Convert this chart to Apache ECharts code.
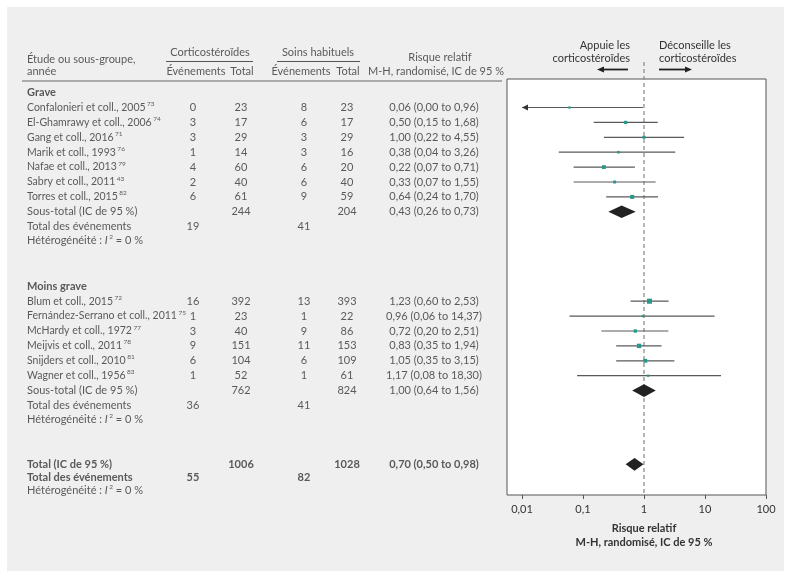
<!DOCTYPE html>
<html><head><meta charset="utf-8">
<script src="https://cdn.jsdelivr.net/npm/echarts@6/dist/echarts.min.js"></script>
<style>html,body{margin:0;padding:0;background:#fff}#c{width:791px;height:578px}</style>
</head><body><div id="c"></div>
<script>
// ---------- DATA ----------
const graveStudies = ['Confalonieri et coll., 2005', 'El-Ghamrawy et coll., 2006', 'Gang et coll., 2016', 'Marik et coll., 1993', 'Nafae et coll., 2013', 'Sabry et coll., 2011', 'Torres et coll., 2015'];
const graveRefs = ['73', '74', '71', '76', '79', '43', '82'];
const graveCortEvents = [0, 3, 3, 1, 4, 2, 6];
const graveCortTotal = [23, 17, 29, 14, 60, 40, 61];
const graveUsualEvents = [8, 6, 3, 3, 6, 6, 9];
const graveUsualTotal = [23, 17, 29, 16, 20, 40, 59];
const graveRR = [0.06, 0.50, 1.00, 0.38, 0.22, 0.33, 0.64];
const graveLow = [0.00, 0.15, 0.22, 0.04, 0.07, 0.07, 0.24];
const graveHigh = [0.96, 1.68, 4.55, 3.26, 0.71, 1.55, 1.70];
const graveWeights = [1.5, 7, 5, 3, 13, 5, 15];   // estimated relative weights (%)
const graveSubtotal = { cortTotal: 244, usualTotal: 204, rr: 0.43, low: 0.26, high: 0.73, cortEvents: 19, usualEvents: 41 };

const moinsStudies = ['Blum et coll., 2015', 'Fernández-Serrano et coll., 2011', 'McHardy et coll., 1972', 'Meijvis et coll., 2011', 'Snijders et coll., 2010', 'Wagner et coll., 1956'];
const moinsRefs = ['72', '75', '77', '78', '81', '83'];
const moinsCortEvents = [16, 1, 3, 9, 6, 1];
const moinsCortTotal = [392, 23, 40, 151, 104, 52];
const moinsUsualEvents = [13, 1, 9, 11, 6, 1];
const moinsUsualTotal = [393, 22, 86, 153, 109, 61];
const moinsRR = [1.23, 0.96, 0.72, 0.83, 1.05, 1.17];
const moinsLow = [0.60, 0.06, 0.20, 0.35, 0.35, 0.08];
const moinsHigh = [2.53, 14.37, 2.51, 1.94, 3.15, 18.30];
const moinsWeights = [30, 1.5, 8, 20, 13, 1.5];
const moinsSubtotal = { cortTotal: 762, usualTotal: 824, rr: 1.00, low: 0.64, high: 1.56, cortEvents: 36, usualEvents: 41 };

const overallTotal = { cortTotal: 1006, usualTotal: 1028, rr: 0.70, low: 0.50, high: 0.98, cortEvents: 55, usualEvents: 82 };

const tickValues = [0.01, 0.1, 1, 10, 100];
const tickLabels = ['0,01', '0,1', '1', '10', '100'];

// ---------- LAYOUT ----------
const FONT = 'Lato';
const FS = 11;
const TXT = '#333';
const ROW_PX = 14.9, ROW0_PX = 92.6;
const TABLE_TOP = 20, PLOT_TOP = 79, PLOT_BOTTOM = 495, H = 578;
const PLOT_LEFT = 507, PLOT_RIGHT = 766;
const X_MIN_LOG = -2 - (522 - PLOT_LEFT) / 61, X_MAX_LOG = 2;
const rowOf = px => (px - ROW0_PX) / ROW_PX;
const COL = { name: 27, ce: 193, ct: 241, ue: 304, ut: 347, rr: 434 };

const fmt = v => v.toFixed(2).replace('.', ',');
const ciText = (r, l, h) => fmt(r) + ' (' + fmt(l) + ' to ' + fmt(h) + ')';
const lg = v => Math.log10(v);

const cells = [];
function cell(x, row, text, align, style) {
  cells.push({ value: [x, row], label: Object.assign({ formatter: text, align: align || 'center' }, style || {}) });
}
const BOLD = { fontWeight: 'bold' };
// headers
cell(COL.name, -2.25, 'Étude ou sous-groupe,', 'left');
cell(COL.name, -1.45, 'année', 'left');
cell(210, -2.72, 'Corticostéroïdes', 'center');
cell(COL.ce + 3, -1.45, 'Événements', 'center');
cell(COL.ct + 1, -1.45, 'Total', 'center');
cell(318, -2.72, 'Soins habituels', 'center');
cell(COL.ue - 3, -1.45, 'Événements', 'center');
cell(COL.ut + 1, -1.45, 'Total', 'center');
cell(440, -2.35, 'Risque relatif', 'center');
cell(436, -1.45, 'M-H, randomisé, IC de 95 %', 'center');

const forestData = [];
forestData.push({ value: [0, 0, 0, rowOf(62), 0, 3] }); // reference line at RR = 1

function group(title, titleRow, studies, refs, ce, ct, ue, ut, rr, lo, hi, w, sub) {
  cell(COL.name, titleRow, title, 'left', BOLD);
  studies.forEach((s, i) => {
    const row = titleRow + 1 + i;
    cell(COL.name, row, '{n|' + s + '}{s|' + refs[i] + '}', 'left');
    cell(COL.ce, row, String(ce[i]));
    cell(COL.ct, row, String(ct[i]));
    cell(COL.ue, row, String(ue[i]));
    cell(COL.ut, row, String(ut[i]));
    cell(COL.rr, row, ciText(rr[i], lo[i], hi[i]));
    const size = 1.5 + 0.65 * Math.sqrt(w[i]);
    const lowPlot = lo[i] > 0 ? lg(lo[i]) : lg(tickValues[0]);
    forestData.push({ value: [lg(rr[i]), lowPlot, lg(hi[i]), row, size, lo[i] > 0 ? 0 : 1] });
  });
  const sr = titleRow + 1 + studies.length;
  cell(COL.name, sr, 'Sous-total (IC de 95 %)', 'left');
  cell(COL.ct, sr, String(sub.cortTotal));
  cell(COL.ut, sr, String(sub.usualTotal));
  cell(COL.rr, sr, ciText(sub.rr, sub.low, sub.high));
  forestData.push({ value: [lg(sub.rr), lg(sub.low), lg(sub.high), sr, 6.3, 2] });
  cell(COL.name, sr + 1, 'Total des événements', 'left');
  cell(COL.ce, sr + 1, String(sub.cortEvents));
  cell(COL.ue, sr + 1, String(sub.usualEvents));
  cell(COL.name, sr + 1.93, 'Hétérogénéité : {i|I}{s|2} = 0 %', 'left');
}
group('Grave', 0, graveStudies, graveRefs, graveCortEvents, graveCortTotal, graveUsualEvents, graveUsualTotal, graveRR, graveLow, graveHigh, graveWeights, graveSubtotal);
group('Moins grave', 13.0, moinsStudies, moinsRefs, moinsCortEvents, moinsCortTotal, moinsUsualEvents, moinsUsualTotal, moinsRR, moinsLow, moinsHigh, moinsWeights, moinsSubtotal);

const TR = 24.95;
cell(COL.name, TR, 'Total (IC de 95 %)', 'left', BOLD);
cell(COL.ct, TR, String(overallTotal.cortTotal), 'center', BOLD);
cell(COL.ut, TR, String(overallTotal.usualTotal), 'center', BOLD);
cell(COL.rr, TR, ciText(overallTotal.rr, overallTotal.low, overallTotal.high), 'center', BOLD);
cell(COL.name, TR + 0.87, 'Total des événements', 'left', BOLD);
cell(COL.ce, TR + 0.87, String(overallTotal.cortEvents), 'center', BOLD);
cell(COL.ue, TR + 0.87, String(overallTotal.usualEvents), 'center', BOLD);
cell(COL.name, TR + 1.72, 'Hétérogénéité : {i|I}{s|2} = 0 %', 'left');
forestData.push({ value: [lg(overallTotal.rr), lg(overallTotal.low), lg(overallTotal.high), TR, 6.3, 2] });

function renderForest(params, api) {
  const kind = api.value(5);
  const row = api.value(3);
  if (kind === 3) {
    const a = api.coord([0, row]);
    const b = api.coord([0, rowOf(PLOT_BOTTOM)]);
    return { type: 'line', shape: { x1: a[0], y1: a[1], x2: b[0], y2: b[1] }, style: { stroke: '#8f8f8f', lineWidth: 1.3, lineDash: [4, 3] } };
  }
  const pc = api.coord([api.value(0), row]);
  const pl = api.coord([api.value(1), row]);
  const ph = api.coord([api.value(2), row]);
  if (kind === 2) {
    const h = api.value(4);
    return { type: 'polygon', shape: { points: [[pl[0], pl[1]], [pc[0], pc[1] - h], [ph[0], ph[1]], [pc[0], pc[1] + h]] }, style: { fill: '#222' } };
  }
  const s = api.value(4);
  const children = [
    { type: 'line', shape: { x1: pl[0], y1: pl[1], x2: ph[0], y2: ph[1] }, style: { stroke: '#5a5a5a', lineWidth: 1.2 } },
    { type: 'rect', shape: { x: pc[0] - s / 2, y: pc[1] - s / 2, width: s, height: s }, style: { fill: '#27998b' } }
  ];
  if (kind === 1) children.push({ type: 'polygon', shape: { points: [[pl[0], pl[1]], [pl[0] + 6, pl[1] - 3], [pl[0] + 6, pl[1] + 3]] }, style: { fill: '#333' } });
  return { type: 'group', children };
}

const tr0 = rowOf(TABLE_TOP), tr1 = rowOf(PLOT_BOTTOM);
const pr0 = rowOf(PLOT_TOP);

const chart = echarts.init(document.getElementById('c'), null, { renderer: 'canvas' });
const F = FS + 'px ' + FONT;
const hidden = { show: false, axisLine: { show: false, onZero: false }, axisTick: { show: false }, axisLabel: { show: false }, splitLine: { show: false } };
chart.setOption({
  animation: false,
  backgroundColor: '#fff',
  textStyle: { fontFamily: FONT },
  grid: [
    { left: 0, right: 0, top: TABLE_TOP, bottom: H - PLOT_BOTTOM, show: false },
    { left: PLOT_LEFT, right: 791 - PLOT_RIGHT, top: PLOT_TOP, bottom: H - PLOT_BOTTOM, show: true, backgroundColor: '#fff', borderColor: '#555', borderWidth: 1, z: 1 }
  ],
  xAxis: [
    Object.assign({ gridIndex: 0, type: 'value', min: 0, max: 791 }, hidden),
    { gridIndex: 1, type: 'value', min: X_MIN_LOG, max: X_MAX_LOG, position: 'bottom',
      axisLine: { show: false, onZero: false }, splitLine: { show: false },
      axisTick: { show: true, length: 4, lineStyle: { color: '#555' }, customValues: tickValues.map(lg) },
      axisLabel: { margin: 9, fontFamily: FONT, fontSize: FS, color: TXT, customValues: tickValues.map(lg),
        formatter: v => { const i = tickValues.findIndex(t => Math.abs(lg(t) - v) < 1e-6); return i >= 0 ? tickLabels[i] : ''; } } }
  ],
  yAxis: [
    Object.assign({ gridIndex: 0, type: 'value', min: tr0, max: tr1, inverse: true }, hidden),
    Object.assign({ gridIndex: 1, type: 'value', min: pr0, max: tr1, inverse: true }, hidden)
  ],
  series: [
    { type: 'scatter', xAxisIndex: 0, yAxisIndex: 0, symbolSize: 0, silent: true, z: 5,
      label: { show: true, position: 'inside', verticalAlign: 'middle', fontFamily: FONT, fontSize: FS, color: TXT,
        rich: {
          n: { fontFamily: FONT, fontSize: 10.5, color: TXT, lineHeight: 14 },
          i: { fontFamily: FONT, fontSize: FS, color: TXT, fontStyle: 'italic', lineHeight: 14 },
          s: { fontFamily: FONT, fontSize: 6.5, color: TXT, verticalAlign: 'top', lineHeight: 9, padding: [0, 0, 0, 1.5] }
        } },
      emphasis: { disabled: true },
      data: cells },
    { type: 'custom', xAxisIndex: 1, yAxisIndex: 1, renderItem: renderForest, silent: true, z: 4,
      data: forestData }
  ],
  graphic: [
    { id: 'bg', type: 'rect', z: -100, shape: { x: 7, y: 7, width: 777, height: 564 }, style: { fill: '#eeefee' } },
    { id: 'u1', type: 'line', shape: { x1: 166, y1: 61.5, x2: 253, y2: 61.5 }, style: { stroke: '#555', lineWidth: 1 } },
    { id: 'u2', type: 'line', shape: { x1: 277, y1: 61.5, x2: 360, y2: 61.5 }, style: { stroke: '#555', lineWidth: 1 } },
    { id: 'hl', type: 'line', shape: { x1: 22, y1: 81, x2: 502, y2: 81 }, style: { stroke: '#666', lineWidth: 1.2 } },
    { id: 't1', type: 'text', style: { text: 'Appuie les', x: 630, y: 45, align: 'right', verticalAlign: 'middle', font: F, fill: TXT } },
    { id: 't2', type: 'text', style: { text: 'corticostéroïdes', x: 630, y: 58, align: 'right', verticalAlign: 'middle', font: F, fill: TXT } },
    { id: 't3', type: 'text', style: { text: 'Déconseille les', x: 659, y: 45, align: 'left', verticalAlign: 'middle', font: F, fill: TXT } },
    { id: 't4', type: 'text', style: { text: 'corticostéroïdes', x: 659, y: 58, align: 'left', verticalAlign: 'middle', font: F, fill: TXT } },
    { id: 'a1', type: 'line', shape: { x1: 628, y1: 69.5, x2: 602, y2: 69.5 }, style: { stroke: '#222', lineWidth: 1.8 } },
    { id: 'a1h', type: 'polygon', shape: { points: [[597, 69.5], [604, 66.5], [604, 72.5]] }, style: { fill: '#222' } },
    { id: 'a2', type: 'line', shape: { x1: 659, y1: 69.5, x2: 686, y2: 69.5 }, style: { stroke: '#222', lineWidth: 1.8 } },
    { id: 'a2h', type: 'polygon', shape: { points: [[692, 69.5], [685, 66.5], [685, 72.5]] }, style: { fill: '#222' } }
  ]
});
// axis title centred under RR = 1
const p1 = chart.convertToPixel({ gridIndex: 1 }, [0, 0]);
chart.setOption({ graphic: [
  { id: 'ax1', type: 'text', style: { text: 'Risque relatif', x: p1[0], y: 528, align: 'center', verticalAlign: 'middle', font: 'bold ' + F, fill: TXT } },
  { id: 'ax2', type: 'text', style: { text: 'M-H, randomisé, IC de 95 %', x: p1[0], y: 542, align: 'center', verticalAlign: 'middle', font: 'bold ' + F, fill: TXT } }
] });
</script></body></html>
